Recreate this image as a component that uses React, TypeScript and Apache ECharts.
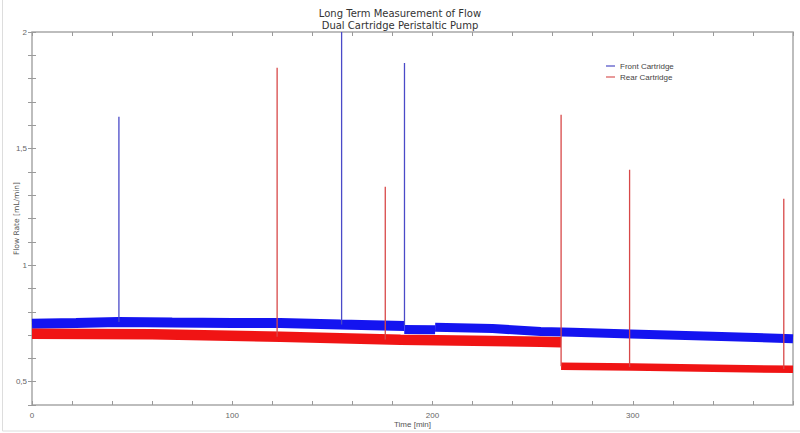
import React, { useEffect, useRef } from "react";
import * as echarts from "echarts";

// Front cartridge band (centre line of the noisy trace), in three pieces split at the small steps
const frontTimesA = [0, 22, 43, 70, 100, 124, 154, 185.9];
const frontValuesA = [0.748, 0.752, 0.756, 0.754, 0.752, 0.752, 0.745, 0.739];
const frontTimesB = [185.9, 201.3];
const frontValuesB = [0.724, 0.723];
const frontTimesC = [201.3, 230, 254, 270, 299, 340, 380];
const frontValuesC = [0.733, 0.728, 0.715, 0.712, 0.705, 0.695, 0.684];

// Rear cartridge band before and after the step at ~264 min
const rearTimes = [0, 60, 124, 184, 254, 264.2];
const rearValues = [0.706, 0.703, 0.693, 0.680, 0.671, 0.669];
const rearLowTimes = [264.2, 300, 340, 380];
const rearLowValues = [0.566, 0.563, 0.558, 0.553];

// Spikes
const frontSpikeTimes = [43.4, 154.6, 186.0];
const frontSpikeBase = [0.756, 0.745, 0.739];
const frontSpikePeak = [1.636, 2.0, 1.867];
const rearSpikeTimes = [122.4, 176.4, 264.2, 298.4, 375.4];
const rearSpikeBase = [0.693, 0.681, 0.566, 0.563, 0.554];
const rearSpikePeak = [1.847, 1.336, 1.645, 1.409, 1.285];

const xTickLabels = [0, 100, 200, 300];
const yTickLabels = [0.5, 1, 1.5, 2];

const FONT = "DejaVu Sans";
const SMALL_FONT = "Liberation Sans";
const BLUE = "#1414f0";
const RED = "#f01414";

function pairs(ts: number[], vs: number[]) {
  return ts.map((t, i) => [t, vs[i]]);
}

function spikeData(ts: number[], base: number[], peak: number[]) {
  const out: any[] = [];
  ts.forEach((t, i) => {
    out.push([t, base[i]]);
    out.push([t, peak[i]]);
    out.push([t, "-"]);
  });
  return out;
}

function band(name: string, data: number[][], color: string, width: number) {
  return {
    name,
    type: "line",
    symbol: "none",
    data,
    lineStyle: { color, width, cap: "butt", join: "bevel" },
    itemStyle: { color },
  };
}

export default function App() {
  const ref = useRef<HTMLDivElement>(null);
  useEffect(() => {
    document.body.style.margin = "0";
    if (!ref.current) return;
    const chart = echarts.init(ref.current, undefined, { renderer: "svg" });
    const tickStyle = { show: true, inside: true, length: 4, lineStyle: { color: "#9a9a9a", width: 1 } };
    chart.setOption({
      animation: false,
      backgroundColor: "#ffffff",
      title: {
        text: "Long Term Measurement of Flow\nDual Cartridge Peristaltic Pump",
        left: "center",
        top: 2,
        textStyle: { fontFamily: FONT, fontSize: 10, fontWeight: "normal", color: "#333", lineHeight: 12.5 },
      },
      legend: {
        orient: "vertical",
        left: 601,
        top: 57,
        itemGap: 3,
        itemWidth: 9,
        itemHeight: 1.5,
        icon: "rect",
        textStyle: { fontFamily: SMALL_FONT, fontSize: 8, color: "#444" },
        data: [
          { name: "Front Cartridge", itemStyle: { color: "#7070d0" } },
          { name: "Rear Cartridge", itemStyle: { color: "#e07878" } },
        ],
      },
      grid: {
        left: 32,
        right: 7,
        top: 32,
        bottom: 28,
        show: true,
        borderColor: "#a8a8a8",
        borderWidth: 1.5,
        containLabel: false,
        outerBoundsMode: "none",
      },
      xAxis: [
        {
          type: "value",
          min: 0,
          max: 380,
          interval: 20,
          axisLine: { show: false },
          axisTick: tickStyle,
          splitLine: { show: false },
          axisLabel: {
            fontFamily: SMALL_FONT,
            fontSize: 8,
            color: "#666",
            margin: 6,
            formatter: (v: number) => (xTickLabels.includes(Math.round(v)) ? String(Math.round(v)) : ""),
          },
          name: "Time [min]",
          nameLocation: "middle",
          nameGap: 15,
          nameMoveOverlap: false,
          nameTextStyle: { fontFamily: SMALL_FONT, fontSize: 8, color: "#555" },
        },
        {
          type: "value",
          position: "top",
          min: 0,
          max: 380,
          interval: 20,
          axisLine: { show: false },
          axisTick: tickStyle,
          splitLine: { show: false },
          axisLabel: { show: false },
        },
      ],
      yAxis: [
        {
          type: "value",
          min: 0.4,
          max: 2,
          interval: 0.1,
          axisLine: { show: false },
          axisTick: tickStyle,
          splitLine: { show: false },
          axisLabel: {
            fontFamily: SMALL_FONT,
            fontSize: 8,
            color: "#666",
            margin: 5,
            formatter: (v: number) => {
              const r = Math.round(v * 10) / 10;
              return yTickLabels.includes(r) ? String(r).replace(".", ",") : "";
            },
          },
          name: "Flow Rate [mL/min]",
          nameLocation: "middle",
          nameGap: 12,
          nameMoveOverlap: false,
          nameTextStyle: { fontFamily: FONT, fontSize: 7.5, color: "#555" },
        },
        {
          type: "value",
          position: "right",
          min: 0.4,
          max: 2,
          interval: 0.1,
          axisLine: { show: false },
          axisTick: tickStyle,
          splitLine: { show: false },
          axisLabel: { show: false },
        },
      ],
      graphic: [
        { type: "line", shape: { x1: 2.5, y1: 0, x2: 2.5, y2: 431 }, style: { stroke: "#dddddd", lineWidth: 1 } },
        { type: "line", shape: { x1: 2.5, y1: 431, x2: 800, y2: 431 }, style: { stroke: "#dddddd", lineWidth: 1 } },
      ],
      series: [
        band("Front Cartridge", pairs(frontTimesA, frontValuesA), BLUE, 10),
        band("Front Cartridge (b)", pairs(frontTimesB, frontValuesB), BLUE, 9),
        band("Front Cartridge (c)", pairs(frontTimesC, frontValuesC), BLUE, 9),
        band("Rear Cartridge", pairs(rearTimes, rearValues), RED, 10.5),
        band("Rear Cartridge (after step)", pairs(rearLowTimes, rearLowValues), RED, 7.5),
        {
          name: "Front Cartridge spikes",
          type: "line",
          symbol: "none",
          connectNulls: false,
          data: spikeData(frontSpikeTimes, frontSpikeBase, frontSpikePeak),
          lineStyle: { color: "#4a4ac8", width: 1.3 },
        },
        {
          name: "Rear Cartridge spikes",
          type: "line",
          symbol: "none",
          connectNulls: false,
          data: spikeData(rearSpikeTimes, rearSpikeBase, rearSpikePeak),
          lineStyle: { color: "#d84848", width: 1.3 },
        },
      ],
    });
    return () => chart.dispose();
  }, []);
  return <div ref={ref} style={{ width: 800, height: 433 }} />;
}
